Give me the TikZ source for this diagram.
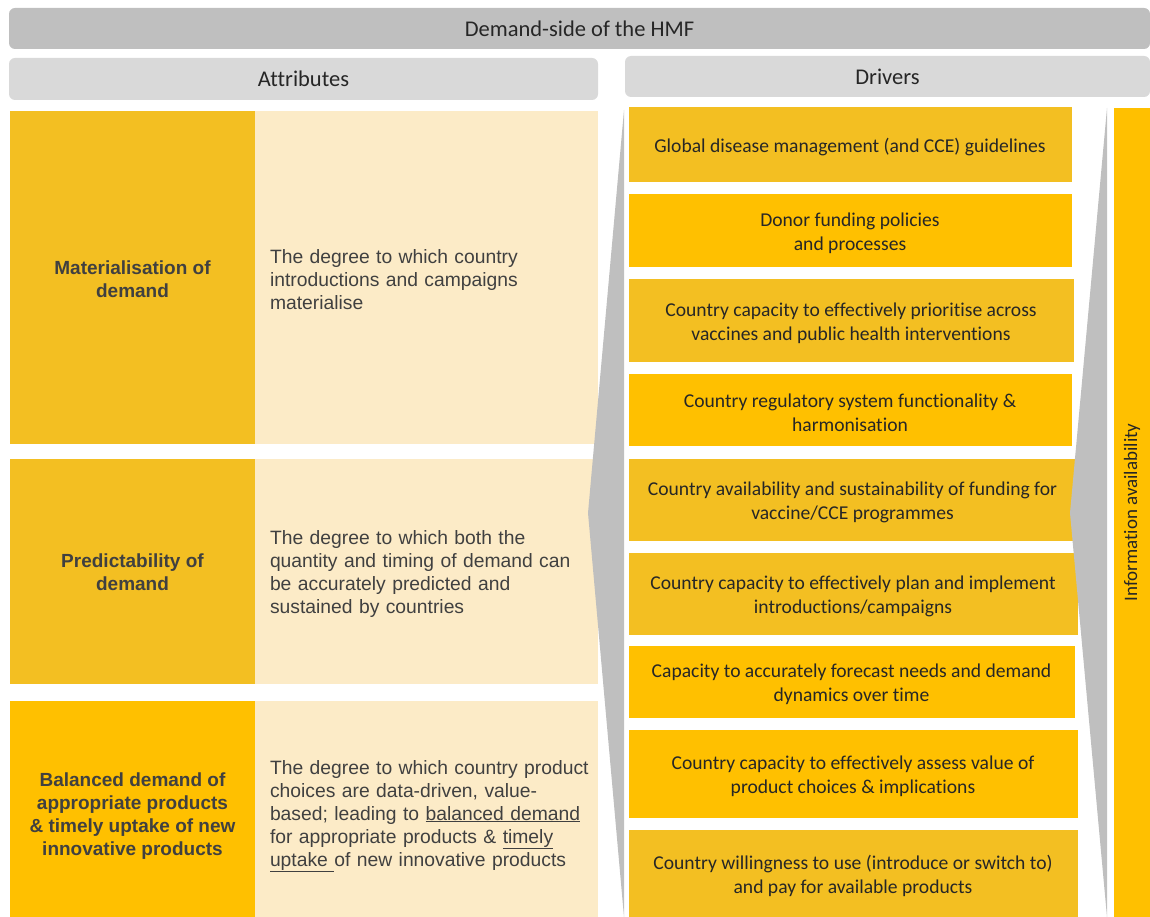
\documentclass[tikz,border=0pt]{standalone}
\usepackage{fontspec}
\setmainfont{Carlito}[Ligatures=NoCommon]
\newfontfamily\arialf{Liberation Sans}
\definecolor{hdrgrey}{HTML}{BFBFBF}
\definecolor{subgrey}{HTML}{D9D9D9}
\definecolor{goldA}{HTML}{F3BF22}
\definecolor{goldB}{HTML}{FFC000}
\definecolor{cream}{HTML}{FCEBC7}
\definecolor{brgrey}{HTML}{BFBFBF}
\definecolor{txtdark}{HTML}{262626}
\definecolor{attrtxt}{HTML}{404040}
\begin{document}
\begin{tikzpicture}[x=1pt,y=-1pt,
  hdrbox/.style={fill=#1, draw=none, rounded corners=6pt, inner sep=0pt, text=txtdark,
    font=\fontsize{22.5}{27}\selectfont},
  titlebox/.style={fill=#1, draw=none, inner sep=0pt, align=center, text=attrtxt,
    font=\arialf\bfseries\fontsize{19}{23}\selectfont},
  descbox/.style={fill=cream, draw=none, inner xsep=15pt, inner ysep=0pt, text width=313pt,
    align=left, text=attrtxt, font=\arialf\fontsize{19.3}{23}\selectfont},
  drvbox/.style={fill=#1, draw=white, line width=1pt, inner sep=0pt,
    align=center, text=txtdark, font=\fontsize{19.6}{24}\selectfont},
  infobox/.style={fill=goldB, draw=none, inner sep=0pt, text=txtdark,
    font=\fontsize{19}{23}\selectfont}
]
\useasboundingbox (0,0) rectangle (1150,917);

% headers
\node[hdrbox=hdrgrey, minimum width=1141pt, minimum height=41pt] (hmf) at (579.5,28.5) {Demand-side of the HMF};
\node[hdrbox=subgrey, minimum width=589pt, minimum height=42pt] (attrs) at (303.5,79) {Attributes};
\node[hdrbox=subgrey, minimum width=525pt, minimum height=41pt] (drivers) at (887.5,76.5) {Drivers};

% attributes
\node[titlebox=goldA, minimum width=245pt, minimum height=333pt] (t1) at (132.5,277.5)
  {\rule{0pt}{18pt}Materialisation of\\demand};
\node[descbox, minimum height=333pt] (d1) at (426.5,277.5)
  {\rule{0pt}{18pt}The degree to which country\\introductions and campaigns\\materialise};

\node[titlebox=goldA, minimum width=245pt, minimum height=225pt] (t2) at (132.5,571.5)
  {\rule{0pt}{16pt}Predictability of\\demand};
\node[descbox, minimum height=225pt] (d2) at (426.5,571.5)
  {\rule{0pt}{18pt}The degree to which both the\\quantity and timing of demand can\\be accurately predicted and\\sustained by countries};

\node[titlebox=goldB, minimum width=245pt, minimum height=216pt] (t3) at (132.5,809)
  {\rule{0pt}{28pt}Balanced demand of\\appropriate products\\\& timely uptake of new\\innovative products};
\node[descbox, minimum height=216pt] (d3) at (426.5,809)
  {\rule{0pt}{28pt}\mbox{The degree to which country product}\\choices are data-driven, value-\\based; leading to \underline{balanced demand}\\for appropriate products \& \underline{timely}\\\underline{uptake\ }of new innovative products};

% drivers
\node[drvbox=goldA, minimum width=444pt, minimum height=76pt] (r1) at (850,145)
  {\rule{0pt}{19pt}Global disease management (and CCE) guidelines};
\node[drvbox=goldB, minimum width=444pt, minimum height=73pt] (r2) at (850,230.5)
  {\rule{0pt}{20pt}Donor funding policies\\and processes};
\node[drvbox=goldA, minimum width=446pt, minimum height=84pt] (r3) at (851,320)
  {\rule{0pt}{20pt}Country capacity to effectively prioritise across\\vaccines and public health interventions};
\node[drvbox=goldB, minimum width=444pt, minimum height=73pt] (r4) at (850,409.5)
  {\rule{0pt}{20pt}Country regulatory system functionality \&\\harmonisation};
\node[drvbox=goldA, minimum width=449pt, minimum height=83pt] (r5) at (852.5,499.5)
  {\rule{0pt}{20pt}Country availability and sustainability of funding for\\vaccine/CCE programmes};
\node[drvbox=goldA, minimum width=450pt, minimum height=83pt] (r6) at (853,593.5)
  {\rule{0pt}{20pt}Country capacity to effectively plan and implement\\introductions/campaigns};
\node[drvbox=goldB, minimum width=447pt, minimum height=73pt] (r7) at (851.5,681.5)
  {\rule{0pt}{20pt}Capacity to accurately forecast needs and demand\\dynamics over time};
\node[drvbox=goldB, minimum width=450pt, minimum height=89pt] (r8) at (853,773.5)
  {\rule{0pt}{20pt}Country capacity to effectively assess value of\\product choices \& implications};
\node[drvbox=goldA, minimum width=450pt, minimum height=88pt] (r9) at (853,873)
  {\rule{0pt}{20pt}Country willingness to use (introduce or switch to)\\and pay for available products};

% information availability
\node[infobox, rotate=90, minimum width=809pt, minimum height=36pt] (info) at (1132,512.5)
  {Information availability};

% grey bracket shapes (on top)
\fill[brgrey] (624,110) -- (588,513) -- (624,917) -- cycle;
\fill[brgrey] (1107,108) -- (1070,513) -- (1107,917) -- cycle;
\end{tikzpicture}
\end{document}
